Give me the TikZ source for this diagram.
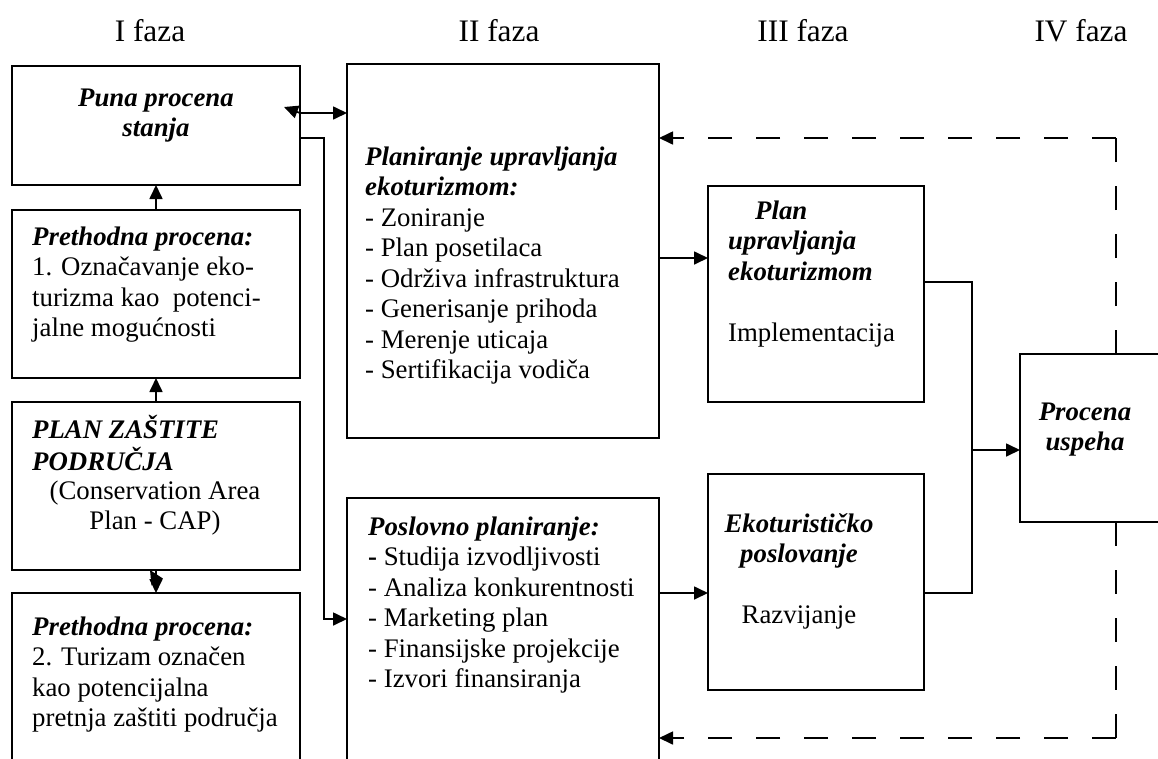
\documentclass[tikz,border=0pt]{standalone}
\usepackage{fontspec}
\setmainfont{Liberation Serif}
\usetikzlibrary{arrows.meta,calc}
\newcommand\tbi[1]{\textbf{\textit{#1}}}
\newcommand\lcol[1]{\begin{tabular}[t]{@{}l@{}}#1\end{tabular}}
\newcommand\ccol[1]{\begin{tabular}[t]{@{}c@{}}#1\end{tabular}}
\begin{document}
\begin{tikzpicture}[x=1pt,y=-1pt,
  box/.style={draw, line width=1.7pt, anchor=north west, inner sep=0pt, outer sep=0pt},
  conn/.style={line width=1.7pt},
  arr/.style={conn, -{Triangle[length=14pt,width=13pt]}},
  dsh/.style={conn, dash pattern=on 24pt off 24pt},
  txt/.style={inner sep=0pt, anchor=base west, font=\fontsize{26.8pt}{30.5pt}\selectfont},
  ctxt/.style={txt, anchor=base},
  head/.style={inner sep=0pt, anchor=base, font=\fontsize{31.3pt}{36pt}\selectfont},
]
\useasboundingbox (0,0) rectangle (1158,758);
\clip (0,0) rectangle (1158,758);

% phase headings
\node[head] (h1) at (150,41) {I faza};
\node[head] (h2) at (499,41) {II faza};
\node[head] (h3) at (803,41) {III faza};
\node[head] (h4) at (1081,41) {IV faza};

% boxes
\node[box, minimum width=288pt, minimum height=119pt] (A) at (12,66) {};
\node[box, minimum width=288pt, minimum height=168pt] (B) at (12,210) {};
\node[box, minimum width=288pt, minimum height=168pt] (C) at (12,402) {};
\node[box, minimum width=288pt, minimum height=200pt] (D) at (12,593) {};
\node[box, minimum width=312pt, minimum height=374pt] (E) at (347,64) {};
\node[box, minimum width=312pt, minimum height=300pt] (F) at (347,498) {};
\node[box, minimum width=216pt, minimum height=216pt] (G) at (708,186) {};
\node[box, minimum width=216pt, minimum height=216pt] (H) at (708,474) {};
\node[box, minimum width=200pt, minimum height=168pt] (I) at (1020,354) {};

% box texts
\node[ctxt] (tA) at (156,106) {\ccol{\tbi{Puna procena}\\ \tbi{stanja}}};
\node[txt] (tB) at (32,245) {\lcol{\tbi{Prethodna procena:}\\
  1. Označavanje eko-\\ turizma kao\ \ potenci-\\ jalne mogućnosti}};
\node[txt] (tC) at (32,438) {\lcol{\tbi{PLAN ZAŠTITE}\\ \tbi{PODRUČJA}}};
\node[ctxt] (tC2) at (155,499) {\ccol{(Conservation Area\\ Plan - CAP)}};
\node[txt] (tD) at (32,635) {\lcol{\tbi{Prethodna procena:}\\
  2. Turizam označen\\ kao potencijalna\\ pretnja zaštiti područja}};
\node[txt] (tE) at (365,165) {\lcol{\tbi{Planiranje upravljanja}\\ \tbi{ekoturizmom:}\\
  - Zoniranje\\ - Plan posetilaca\\ - Održiva infrastruktura\\
  - Generisanje prihoda\\ - Merenje uticaja\\ - Sertifikacija vodiča}};
\node[txt] (tF) at (368,535) {\lcol{\tbi{Poslovno planiranje:}\\
  \textbf{-} Studija izvodljivosti\\ - Analiza konkurentnosti\\ - Marketing plan\\
  - Finansijske projekcije\\ - Izvori finansiranja}};
\node[txt] (tG) at (728,219) {\lcol{\hspace*{27pt}\tbi{Plan}\\ \tbi{upravljanja}\\
  \tbi{ekoturizmom}\\ \\ Implementacija}};
\node[ctxt] (tH) at (799,532) {\ccol{\tbi{Ekoturističko}\\ \tbi{poslovanje}\\ \\ Razvijanje}};
\node[ctxt] (tI) at (1085,420) {\ccol{\tbi{Procena}\\ \tbi{uspeha}}};

% left column arrows
\draw[arr] (B.north) -- (A.south);
\draw[arr] (C.north) -- (B.south);
\draw[arr] (C.south) -- (D.north);
\draw[arr] ([yshift=-10pt]C.south) -- ([xshift=-6pt]C.south);

% links from the first box to phase II
\coordinate (aout) at ([yshift=-47pt]A.north east);
\draw[arr] (aout) -- (aout -| E.west);
\draw[arr] (aout) -- ([xshift=-16pt,yshift=-41pt]A.north east);
\draw[arr] ([yshift=-72pt]A.north east) -- ++(24,0) |- ([yshift=-121pt]F.north west);

% phase II to phase III
\coordinate (gin) at ([yshift=-72pt]G.north west);
\draw[arr] (gin -| E.east) -- (gin);
\coordinate (hin) at ([yshift=-119pt]H.north west);
\draw[arr] (hin -| F.east) -- (hin);

% phase III to phase IV
\coordinate (join) at ([xshift=48pt,yshift=-96pt]G.north east);
\draw[arr] ([yshift=-96pt]G.north east) -- (join) |- ([yshift=-96pt]I.north west);
\draw[conn] ([yshift=-119pt]H.north east) -| (join);

% feedback loops
\coordinate (itop) at ([xshift=96pt]I.north west);
\coordinate (ibot) at ([xshift=96pt]I.south west);
\coordinate (ct) at ($(itop)+(0,-216)$);
\coordinate (cb) at ($(ibot)+(0,216)$);
\draw[dsh] (itop) -- (ct);
\draw[dsh, arr] (ct) -- (ct -| E.east);
\draw[dsh] (ibot) -- (cb);
\draw[dsh, arr] (cb) -- (cb -| F.east);
\end{tikzpicture}
\end{document}
